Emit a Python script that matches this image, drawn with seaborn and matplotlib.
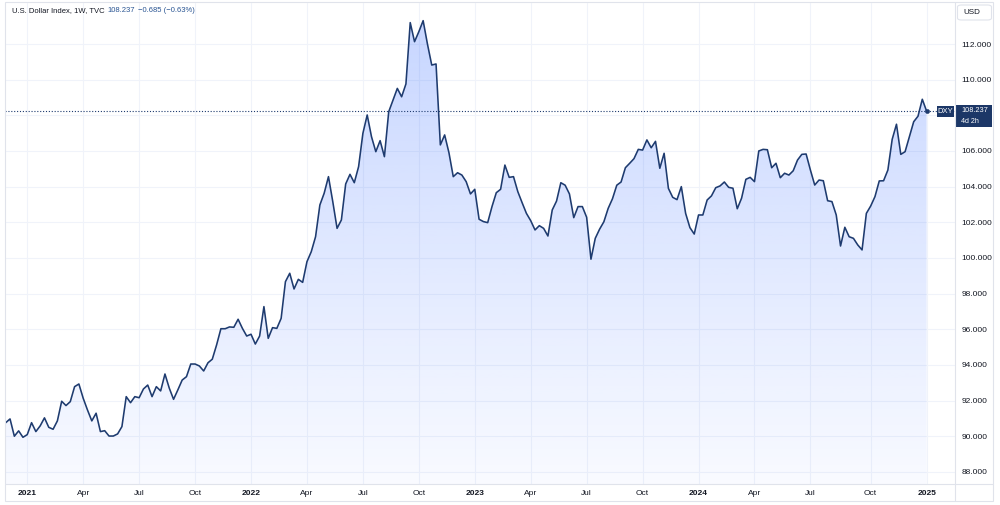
import numpy as np
import pandas as pd
import matplotlib
matplotlib.use("Agg")
import matplotlib.pyplot as plt
import matplotlib.dates as mdates
from matplotlib.colors import to_rgb
from matplotlib.patches import Rectangle, FancyBboxPatch
from matplotlib.lines import Line2D
import seaborn as sns

# ---------------- data ----------------
start_date = "2020-11-30"   # first weekly bar
dxy_close = [
    90.76, 90.97, 90.00, 90.30, 89.94, 90.09, 90.76, 90.26, 90.58, 91.03,
    90.50, 90.39, 90.86, 91.96, 91.72, 91.94, 92.78, 92.93, 92.13, 91.47,
    90.86, 91.29, 90.26, 90.31, 90.01, 90.01, 90.13, 90.54, 92.22, 91.88,
    92.22, 92.16, 92.65, 92.87, 92.22, 92.78, 92.54, 93.49, 92.70, 92.07,
    92.60, 93.15, 93.34, 94.05, 94.05, 93.94, 93.66, 94.12, 94.32, 95.12,
    96.03, 96.03, 96.13, 96.11, 96.56, 96.05, 95.62, 95.72, 95.17, 95.62,
    97.27, 95.49, 96.09, 96.05, 96.61, 98.67, 99.14, 98.26, 98.80, 98.63,
    99.79, 100.35, 101.19, 102.97, 103.63, 104.56, 103.16, 101.66, 102.13, 104.15,
    104.69, 104.22, 105.12, 106.99, 108.02, 106.80, 105.96, 106.58, 105.68, 108.20,
    108.86, 109.51, 109.04, 109.76, 113.20, 112.13, 112.69, 113.31, 112.00, 110.82,
    110.88, 106.34, 106.90, 105.90, 104.56, 104.78, 104.65, 104.28, 103.59, 103.85,
    102.17, 102.04, 101.98, 102.88, 103.66, 103.85, 105.21, 104.52, 104.56, 103.72,
    103.10, 102.50, 102.09, 101.57, 101.81, 101.66, 101.23, 102.69, 103.19, 104.22,
    104.08, 103.59, 102.26, 102.88, 102.88, 102.28, 99.93, 101.10, 101.61, 102.03,
    102.78, 103.32, 104.08, 104.26, 105.06, 105.31, 105.57, 106.09, 106.05, 106.62,
    106.18, 106.54, 105.03, 105.87, 103.90, 103.40, 103.27, 104.00, 102.50, 101.70,
    101.34, 102.41, 102.41, 103.25, 103.48, 103.94, 104.04, 104.26, 103.96, 103.91,
    102.76, 103.35, 104.41, 104.52, 104.28, 106.00, 106.09, 106.07, 105.06, 105.31,
    104.50, 104.75, 104.65, 104.89, 105.49, 105.81, 105.83, 104.93, 104.09, 104.37,
    104.33, 103.21, 103.16, 102.41, 100.67, 101.72, 101.19, 101.10, 100.73, 100.45,
    102.50, 102.91, 103.44, 104.32, 104.33, 104.93, 106.65, 107.50, 105.81, 105.96,
    106.80, 107.64, 107.95, 108.90, 108.237,
]
price_ticks = [88, 90, 92, 94, 96, 98, 100, 102, 104, 106, 108, 110, 112]
quarter_month_names = {1: None, 4: "Apr", 7: "Jul", 10: "Oct"}
title_label = "U.S. Dollar Index, 1W, TVC"
last_label = "108.237"
change_label = "\u22120.685 (\u22120.63%)"
symbol_label = "DXY"
countdown_label = "4d 2h"
currency_label = "USD"

dates = pd.date_range(start_date, periods=len(dxy_close), freq="7D")
df = pd.DataFrame({"date": dates, "value": dxy_close})

# ---------------- style ----------------
sns.set_theme(style="white")
plt.rcParams["font.family"] = ["Liberation Sans", "DejaVu Sans"]

TEXT = "#131722"
NAVY = "#1e3b6f"
BOX = "#1c3767"
GRID = "#f0f3fa"
BORDER = "#e0e3eb"
BLUE_TXT = "#2a5593"

W, H = 1000, 505
fig = plt.figure(figsize=(W / 100, H / 100), dpi=100)
fig.patch.set_facecolor("white")


def fx(px):
    return px / W


def fy(py):
    return 1 - py / H


ax = fig.add_axes([fx(5), fy(484), fx(955) - fx(5), fy(3) - fy(484)])
ax.set_facecolor("white")
ymin, ymax = 87.32, 114.30

# gradient area fill clipped to the area under the line
xnum = mdates.date2num(df["date"])
vals = df["value"].to_numpy()
poly = ax.fill_between(df["date"], df["value"], ymin, facecolor="none", edgecolor="none")
n = 256
rgba = np.zeros((n, 1, 4))
rgba[..., :3] = to_rgb("#2962ff")
rgba[:, 0, 3] = np.linspace(0.03, 0.26, n)
img = ax.imshow(rgba, extent=[xnum[0], xnum[-1], ymin, vals.max()], origin="lower",
                aspect="auto", zorder=1, interpolation="bilinear")
img.set_clip_path(poly.get_paths()[0], transform=ax.transData)

sns.lineplot(data=df, x="date", y="value", ax=ax, color=NAVY, linewidth=1.15, zorder=3)
last = df.tail(1)
ax.axhline(vals[-1], color=NAVY, lw=0.8, ls=(0, (1, 1.6)), zorder=2)
sns.scatterplot(data=last, x="date", y="value", ax=ax, color=NAVY, s=10,
                edgecolor=NAVY, zorder=4, legend=False)

# limits
ax.set_ylim(ymin, ymax)
ax.set_xlim(xnum[0] - 1.2, xnum[0] + 220.6 * 7)

# x ticks at first bar of each quarter month
tick_pos, tick_lab, tick_bold = [], [], []
seen = set()
for d in df["date"]:
    if d.month in quarter_month_names and (d.year, d.month) not in seen:
        seen.add((d.year, d.month))
        tick_pos.append(mdates.date2num(d))
        name = quarter_month_names[d.month]
        tick_lab.append(str(d.year) if name is None else name)
        tick_bold.append(name is None)
ax.set_xticks(tick_pos)
ax.set_xticklabels(tick_lab)
for lab, b in zip(ax.get_xticklabels(), tick_bold):
    lab.set_fontweight("bold" if b else "normal")
    lab.set_fontsize(6)
    lab.set_color(TEXT)
ax.tick_params(axis="x", length=0, pad=4.5)

ax.set_yticks(price_ticks)
ax.set_yticklabels([f"{v:.3f}" for v in price_ticks])
ax.yaxis.tick_right()
ax.tick_params(axis="y", length=0, pad=4.5, labelsize=6, labelcolor=TEXT)
for lab in ax.get_yticklabels():
    lab.set_horizontalalignment("left")

ax.grid(True, color=GRID, lw=0.8)
ax.set_axisbelow(True)
ax.set_xlabel("")
ax.set_ylabel("")
for s in ax.spines.values():
    s.set_visible(False)

# frame / separators
fig.add_artist(Rectangle((fx(5), fy(501)), fx(993) - fx(5), fy(2) - fy(501),
                         transform=fig.transFigure, fill=False, edgecolor=BORDER, lw=0.8))
fig.add_artist(Line2D([fx(955), fx(955)], [fy(2), fy(501)], transform=fig.transFigure,
                      color=BORDER, lw=0.8))
fig.add_artist(Line2D([fx(5), fx(993)], [fy(484), fy(484)], transform=fig.transFigure,
                      color=BORDER, lw=0.8))

# header: chain texts one after another
renderer = fig.canvas.get_renderer()
x_cursor = 11.5
for txt, col, gap in [(title_label, TEXT, 3.0), (last_label, BLUE_TXT, 3.0), (change_label, BLUE_TXT, 0)]:
    t = fig.text(fx(x_cursor), fy(11), txt, fontsize=5.5, color=col, va="center", ha="left")
    bb = t.get_window_extent(renderer=renderer)
    x_cursor += bb.width + gap

# currency box
fig.add_artist(FancyBboxPatch((fx(957.5), fy(20)), fx(991.5) - fx(957.5), fy(5) - fy(20),
                              boxstyle="round,pad=0,rounding_size=0.004",
                              transform=fig.transFigure, facecolor="white",
                              edgecolor=BORDER, lw=0.8))
fig.text(fx(963), fy(12.8), currency_label, fontsize=5.8, color=TEXT, va="center", ha="left")

# symbol + price boxes
fig.add_artist(Rectangle((fx(937), fy(117)), fx(954) - fx(937), fy(106) - fy(117),
                         transform=fig.transFigure, facecolor=BOX, edgecolor="none"))
fig.text(fx(945.5), fy(111.5), symbol_label, fontsize=5.5, color="white", va="center", ha="center")
fig.add_artist(Rectangle((fx(956), fy(126.5)), fx(992) - fx(956), fy(105) - fy(126.5),
                         transform=fig.transFigure, facecolor=BOX, edgecolor="none"))
fig.text(fx(961), fy(110.3), last_label, fontsize=5.3, color="white", va="center", ha="left")
fig.text(fx(961), fy(121.3), countdown_label, fontsize=5.1, color="white", va="center", ha="left")

fig.savefig("out.png", dpi=100, facecolor="white")
